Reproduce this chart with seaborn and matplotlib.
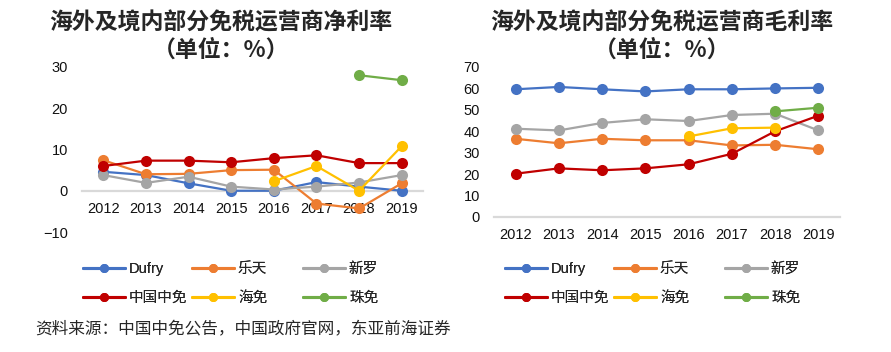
import numpy as np
import pandas as pd
import matplotlib
matplotlib.use("Agg")
import matplotlib.pyplot as plt
from matplotlib.lines import Line2D
import seaborn as sns

years = ["2012", "2013", "2014", "2015", "2016", "2017", "2018", "2019"]
series_names = ["Dufry", "乐天", "新罗", "中国中免", "海免", "珠免"]
colors = ["#4472C4", "#ED7D31", "#A5A5A5", "#C00000", "#FFC000", "#70AD47"]

nan = np.nan
# Net margin (%)
net_dufry = [4.6, 3.8, 1.8, 0.0, 0.0, 2.1, 1.0, 0.0]
net_lotte = [7.4, 4.0, 4.1, 5.0, 5.1, -3.1, -4.3, 1.8]
net_shilla = [3.8, 1.9, 3.4, 1.0, 0.3, 1.0, 2.0, 3.8]
net_cdfg = [6.0, 7.3, 7.3, 6.9, 7.9, 8.6, 6.7, 6.7]
net_haimian = [nan, nan, nan, nan, 2.3, 6.0, 0.0, 10.8]
net_zhumian = [nan, nan, nan, nan, nan, nan, 28.0, 26.8]

# Gross margin (%)
gross_dufry = [59.6, 60.7, 59.6, 58.6, 59.6, 59.6, 60.0, 60.3]
gross_lotte = [36.5, 34.4, 36.5, 35.8, 35.8, 33.4, 33.7, 31.6]
gross_shilla = [41.2, 40.4, 43.9, 45.6, 44.8, 47.6, 48.2, 40.4]
gross_cdfg = [20.2, 22.7, 21.8, 22.7, 24.6, 29.5, 40.0, 47.3]
gross_haimian = [nan, nan, nan, nan, 37.6, 41.4, 41.7, nan]
gross_zhumian = [nan, nan, nan, nan, nan, nan, 49.3, 51.0]

title_left = "海外及境内部分免税运营商净利率"
title_right = "海外及境内部分免税运营商毛利率"
title_unit = "（单位：%）"
source_text = "资料来源：中国中免公告，中国政府官网，东亚前海证券"

net_data = [net_dufry, net_lotte, net_shilla, net_cdfg, net_haimian, net_zhumian]
gross_data = [gross_dufry, gross_lotte, gross_shilla, gross_cdfg, gross_haimian, gross_zhumian]

sns.set_style("white")
plt.rcParams["font.family"] = ["Liberation Sans", "Noto Sans CJK SC", "DejaVu Sans"]
CJK = ["Noto Sans CJK SC", "Liberation Sans", "DejaVu Sans"]

W, H = 891, 352
fig = plt.figure(figsize=(W / 100, H / 100), dpi=100)
fig.patch.set_facecolor("white")


def px_axes(x0, x1, ytop, ybot):
    return fig.add_axes([x0 / W, 1 - ybot / H, (x1 - x0) / W, (ybot - ytop) / H])


ax1 = px_axes(82, 423, 67, 232)
ax2 = px_axes(494, 840, 67, 217)


def draw(ax, data):
    xs = np.arange(len(years))
    for name, vals, c in zip(series_names, data, colors):
        df = pd.DataFrame({"x": xs, "y": vals}).dropna()
        sns.lineplot(data=df, x="x", y="y", ax=ax, color=c, lw=1.6,
                     marker="o", markersize=8, markeredgewidth=0,
                     estimator=None, sort=False, zorder=3, legend=False)
    ax.set_xlim(-0.5, len(years) - 0.5)
    ax.set_xticks(xs)
    ax.set_xticklabels(years)
    ax.set_xlabel("")
    ax.set_ylabel("")
    for s in ["top", "right", "left"]:
        ax.spines[s].set_visible(False)
    ax.spines["bottom"].set_color("#D9D9D9")
    ax.spines["bottom"].set_linewidth(1.6)
    ax.spines["bottom"].set_zorder(2)
    ax.tick_params(axis="both", length=0, labelsize=10.5, colors="#111111")
    ax.tick_params(axis="x", pad=8)
    ax.tick_params(axis="y", pad=10)
    ax.grid(False)
    ax.set_facecolor("none")


draw(ax1, net_data)
ax1.set_ylim(-10, 30)
ax1.set_yticks([-10, 0, 10, 20, 30])
ax1.spines["bottom"].set_position(("data", 0))

draw(ax2, gross_data)
ax2.set_ylim(0, 70)
ax2.set_yticks(np.arange(0, 71, 10))

# titles
for cx, t in [(221, title_left), (662, title_right)]:
    fig.text(cx / W, 1 - 23 / H, t, ha="center", va="center", fontsize=16.5,
             fontweight="bold", family=CJK)
    fig.text(cx / W, 1 - 50 / H, title_unit, ha="center", va="center", fontsize=16.5,
             fontweight="bold", family=CJK)

# legends: one entry each, Excel-like equal column widths
def legend_entry(x, y, name, c):
    h = Line2D([], [], color=c, lw=2.2, marker="o", markersize=6.5, markeredgewidth=0)
    leg = fig.legend([h], [name], loc="center left", bbox_to_anchor=(x / W, 1 - y / H),
                     frameon=False, fontsize=10.5, handlelength=2.85, handletextpad=0.3,
                     borderpad=0, borderaxespad=0)
    fig.add_artist(leg)


for base in [83, 505]:
    cols = [base, base + 109, base + 220]
    rows = [269, 298]
    for i, (name, c) in enumerate(zip(series_names, colors)):
        legend_entry(cols[i % 3], rows[i // 3], name, c)

fig.text(35 / W, 1 - 330 / H, source_text, ha="left", va="center", fontsize=12,
         style="italic", family=CJK)

fig.savefig("out.png", dpi=100, facecolor="white")
